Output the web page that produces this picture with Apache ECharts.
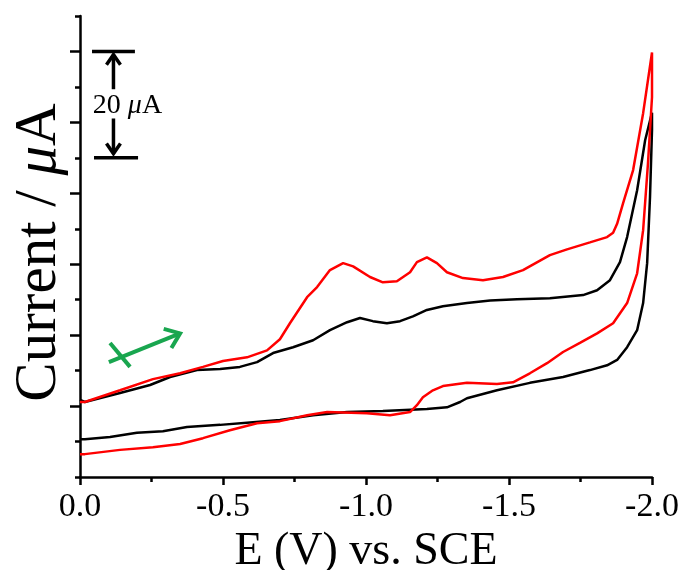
<!DOCTYPE html>
<html>
<head>
<meta charset="utf-8">
<script src="https://cdn.jsdelivr.net/npm/echarts@6/dist/echarts.min.js"></script>
<style>html,body{margin:0;padding:0;background:#fff}#c{width:686px;height:570px}</style>
</head>
<body>
<div id="c"></div>
<script>
// Potential (V vs. SCE) and current (µA, offset above axis bottom)
const blackE = [0,-0.017,-0.140,-0.245,-0.315,-0.409,-0.490,-0.559,-0.619,-0.675,-0.745,-0.815,-0.874,-0.934,-0.979,-1.024,-1.073,-1.119,-1.164,-1.213,-1.269,-1.353,-1.434,-1.528,-1.643,-1.759,-1.808,-1.853,-1.888,-1.913,-1.948,-1.976,-2.000,
  -2.000,-1.993,-1.983,-1.969,-1.948,-1.913,-1.878,-1.843,-1.783,-1.689,-1.573,-1.458,-1.353,-1.329,-1.283,-1.213,-1.059,-0.934,-0.815,-0.699,-0.605,-0.490,-0.374,-0.290,-0.199,-0.105,-0.017,0];
const blackI = [14.5,14.1,15.8,17.3,18.8,20.1,20.3,20.7,21.6,23.3,24.4,25.7,27.6,29.1,29.9,29.3,28.9,29.3,30.2,31.4,32.1,32.7,33.2,33.4,33.6,34.2,35.1,37.0,40.4,45.1,53.9,63.3,68.5,
  65.2,52.6,40.2,32.7,27.6,24.4,22.0,21.0,20.1,18.8,17.7,16.3,14.8,14.1,13.1,12.8,12.4,12.2,11.6,10.7,10.3,9.8,9.4,8.6,8.3,7.5,7.1,7.1];
const redE = [0,-0.017,-0.140,-0.255,-0.350,-0.430,-0.500,-0.584,-0.654,-0.699,-0.734,-0.794,-0.829,-0.874,-0.920,-0.955,-1.014,-1.059,-1.108,-1.154,-1.178,-1.213,-1.248,-1.283,-1.339,-1.409,-1.479,-1.549,-1.643,-1.703,-1.783,-1.843,-1.864,-1.878,-1.899,-1.934,-1.969,-2.000,
  -2.000,-1.986,-1.969,-1.948,-1.913,-1.864,-1.808,-1.748,-1.689,-1.633,-1.573,-1.514,-1.458,-1.353,-1.269,-1.234,-1.199,-1.178,-1.154,-1.084,-1.003,-0.864,-0.794,-0.699,-0.619,-0.524,-0.430,-0.350,-0.255,-0.140,-0.017,0];
const redI = [14.1,14.1,16.3,18.4,19.5,20.7,21.8,22.5,23.8,25.9,28.9,33.8,35.7,38.9,40.2,39.6,37.6,36.6,36.8,38.5,40.4,41.3,40.2,38.5,37.4,37.0,37.6,38.9,41.7,42.8,44.1,45.1,45.9,47.6,51.5,57.7,68.4,79.8,
  71.4,59.0,46.4,38.3,32.7,28.9,27.0,25.2,23.5,21.4,19.5,17.8,17.5,17.7,17.1,16.3,15.0,13.5,12.2,11.6,12.0,12.2,11.6,10.5,10.1,8.8,7.3,6.2,5.6,5.1,4.3,4.3];
const xTicks = [0, -0.5, -1.0, -1.5, -2.0];
const scaleBar = {low: 60, high: 80, label: '20 μA'};

const FONT = '"Liberation Serif", "DejaVu Serif", serif';
const zip = (a, b) => a.map((v, i) => [v, b[i]]);
const U = 20 / 3; // one minor y tick in µA
const yMax = 13 * U;
const longTicks = [];
for (let k = 2; k <= 12; k += 2) longTicks.push(k * U);

const chart = echarts.init(document.getElementById('c'), null, {renderer: 'canvas'});
chart.setOption({
  animation: false,
  backgroundColor: '#fff',
  grid: {left: 80, right: 34, top: 16, bottom: 93, containLabel: false, outerBoundsMode: 'none'},
  xAxis: {
    type: 'value', min: -2, max: 0, inverse: true, interval: 0.5,
    axisLine: {show: true, lineStyle: {color: '#000', width: 2.5}},
    axisTick: {show: true, length: 8, lineStyle: {color: '#000', width: 2.5}},
    minorTick: {show: true, splitNumber: 2, length: 5, lineStyle: {color: '#000', width: 2.5}},
    splitLine: {show: false},
    axisLabel: {color: '#000', fontSize: 34, fontFamily: FONT, margin: 13,
      customValues: xTicks,
      formatter: v => (Math.abs(v) < 1e-9 ? 0 : v).toFixed(1)},
    name: 'E (V) vs. SCE', nameLocation: 'middle', nameGap: 46,
    nameTextStyle: {color: '#000', fontSize: 46, fontFamily: FONT}
  },
  yAxis: [{
    type: 'value', min: 0, max: yMax, interval: U,
    axisLine: {show: true, lineStyle: {color: '#000', width: 2.5}},
    axisTick: {show: true, length: 5, lineStyle: {color: '#000', width: 2.5}},
    axisLabel: {show: false},
    splitLine: {show: false},
    name: '{n|Current / }{m|μ}{n|A}', nameLocation: 'middle', nameGap: 11,
    nameTextStyle: {color: '#000', padding: [0, 12, 0, 0], rich: {
      n: {fontSize: 59, fontFamily: FONT, color: '#000'},
      m: {fontSize: 59, fontFamily: FONT, fontStyle: 'italic', color: '#000'}
    }}
  }, {
    type: 'value', min: 0, max: yMax, position: 'left', offset: 0,
    axisLine: {show: false},
    axisTick: {show: true, length: 10, customValues: longTicks, lineStyle: {color: '#000', width: 2.5}},
    axisLabel: {show: false},
    splitLine: {show: false}
  }],
  series: [{
    type: 'line', data: zip(blackE, blackI), showSymbol: false, symbol: 'none',
    lineStyle: {color: '#000', width: 2.5}, z: 3
  }, {
    type: 'line', data: zip(redE, redI), showSymbol: false, symbol: 'none',
    lineStyle: {color: '#ff0000', width: 2.5}, z: 4
  }]
});

// annotations placed through the axes
const P = (e, i) => chart.convertToPixel({xAxisIndex: 0, yAxisIndex: 0}, [e, i]);
const g = [];
const blk = {stroke: '#000', lineWidth: 3.5, fill: null};
const tL = P(-0.042, scaleBar.high), tR = P(-0.192, scaleBar.high);
const bL = P(-0.049, scaleBar.low), bR = P(-0.203, scaleBar.low);
g.push({type: 'line', shape: {x1: tL[0], y1: tL[1], x2: tR[0], y2: tR[1]}, style: blk});
g.push({type: 'line', shape: {x1: bL[0], y1: bL[1], x2: bR[0], y2: bR[1]}, style: blk});
const upTip = P(-0.117, scaleBar.high - 0.6), upTail = P(-0.117, 72.9);
const dnTip = P(-0.117, scaleBar.low + 0.8), dnTail = P(-0.117, 67.4);
g.push({type: 'line', shape: {x1: upTail[0], y1: upTail[1], x2: upTip[0], y2: upTip[1]}, style: blk});
g.push({type: 'polyline', shape: {points: [[upTip[0] - 7, upTip[1] + 10], [upTip[0], upTip[1]], [upTip[0] + 7, upTip[1] + 10]]}, style: blk});
g.push({type: 'line', shape: {x1: dnTail[0], y1: dnTail[1], x2: dnTip[0], y2: dnTip[1]}, style: blk});
g.push({type: 'polyline', shape: {points: [[dnTip[0] - 7, dnTip[1] - 10], [dnTip[0], dnTip[1]], [dnTip[0] + 7, dnTip[1] - 10]]}, style: blk});
const tc = P(-0.166, 69.9);
g.push({type: 'text', x: tc[0], y: tc[1], style: {
  text: '{n|20 }{m|μ}{n|A}', align: 'center', verticalAlign: 'middle',
  rich: {n: {fontSize: 28, fontFamily: FONT, fill: '#000'}, m: {fontSize: 28, fontFamily: FONT, fontStyle: 'italic', fill: '#000'}}
}});
// green scan-direction arrow
const green = {stroke: '#19a64f', lineWidth: 4, fill: null};
const a0 = P(-0.101, 21.6), a1 = P(-0.350, 27.0);
g.push({type: 'line', shape: {x1: a0[0], y1: a0[1], x2: a1[0], y2: a1[1]}, style: green});
const ang = Math.atan2(a1[1] - a0[1], a1[0] - a0[0]);
const wl = 17, wa = 0.65;
g.push({type: 'polyline', shape: {points: [
  [a1[0] - wl * Math.cos(ang - wa), a1[1] - wl * Math.sin(ang - wa)],
  [a1[0], a1[1]],
  [a1[0] - wl * Math.cos(ang + wa), a1[1] - wl * Math.sin(ang + wa)]]}, style: green});
const c0 = P(-0.105, 25.2), c1 = P(-0.175, 20.7);
g.push({type: 'line', shape: {x1: c0[0], y1: c0[1], x2: c1[0], y2: c1[1]}, style: green});
chart.setOption({graphic: g});
</script>
</body>
</html>
